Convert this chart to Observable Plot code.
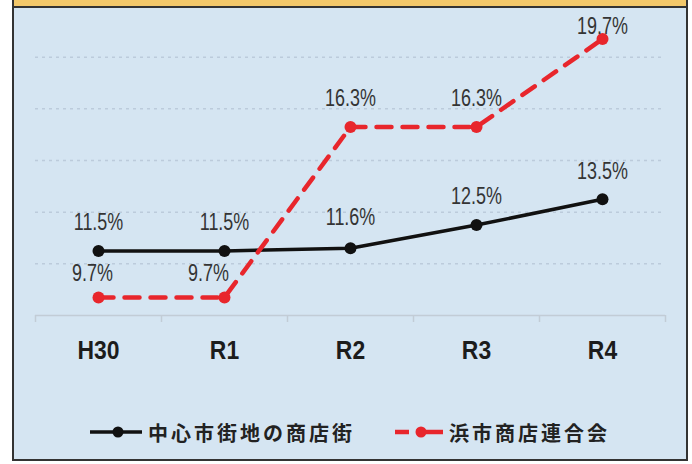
<!DOCTYPE html>
<html><head><meta charset="utf-8">
<script src="https://cdn.jsdelivr.net/npm/d3@7"></script>
<script src="https://cdn.jsdelivr.net/npm/@observablehq/plot@0.6"></script>
<style>
body{margin:0;background:#fff;width:692px;height:464px;overflow:hidden;position:relative;font-family:"Noto Sans CJK JP",sans-serif}
#titlebar{position:absolute;left:12px;top:0;width:672px;height:6px;background:#f3c86a;border:2px solid #333;border-top:none}
#panel{position:absolute;left:12px;top:8px;width:672px;height:451px;background:#d5e5f2;border:2px solid #333;border-top:none}
#chart{position:absolute;left:0;top:0}
.leg{position:absolute;top:418px;height:28px;display:flex;align-items:center;font-size:20px;font-weight:700;color:#222;letter-spacing:3px;white-space:nowrap}
.leg svg{margin-right:6px}
</style></head>
<body>
<div id="titlebar"></div>
<div id="panel"></div>
<div id="chart"></div>
<div id="legend"></div>
<script>
const years = ["H30", "R1", "R2", "R3", "R4"];
const central = [11.5, 11.5, 11.6, 12.5, 13.5];
const hama = [9.7, 9.7, 16.3, 16.3, 19.7];
const seriesNames = ["中心市街地の商店街", "浜市商店連合会"];
const yGrid = [11, 13, 15, 17, 19];
const colors = ["#111111", "#e8262c"];

const centralData = central.map((v, i) => ({i, value: v, series: 0}));
const hamaData = hama.map((v, i) => ({i, value: v, series: 1}));

function offY(d) {
  if (d.series === 0) return d.i === 2 ? -31 : -28;
  if (d.i < 2) return -24;
  if (d.i === 4) return -12;
  return -28;
}
function offX(d) {
  if (d.series === 1 && d.i === 0) return -6;
  if (d.series === 1 && d.i === 1) return -16;
  return 0;
}
const labelFont = '"Liberation Sans",Arial,sans-serif';

function labels(data) {
  return data.map(d => Plot.text([d], {
    x: "i", y: "value", text: x => x.value.toFixed(1) + "%",
    dx: offX(d), dy: offY(d), fontSize: 23, fill: "#343434",
    fontFamily: labelFont, className: "vlab"
  }));
}

const chart = Plot.plot({
  width: 692, height: 380,
  marginLeft: 35, marginRight: 27, marginTop: 5, marginBottom: 65,
  x: {domain: [-0.5, 4.5], axis: null},
  y: {domain: [9, 21], axis: null},
  style: {background: "transparent", overflow: "visible", fontFamily: labelFont},
  marks: [
    Plot.gridY(yGrid, {stroke: "#bccbdb", strokeOpacity: 1, strokeDasharray: "3,4", strokeWidth: 1.5}),
    Plot.ruleY([9], {stroke: "#c2ccd6", strokeWidth: 1.5}),
    Plot.axisX({ticks: d3.range(-0.5, 5, 1), tickSize: 7, tickFormat: () => "", label: null, stroke: "#c2ccd6", strokeWidth: 1.5}),
    Plot.axisX({ticks: [0, 1, 2, 3, 4], tickSize: 0, tickPadding: 25, tickFormat: i => years[i], label: null, fontSize: 26, fontWeight: 700, fill: "#1c1c1c", fontFamily: labelFont, className: "tlab"}),
    Plot.line(centralData, {x: "i", y: "value", stroke: colors[0], strokeWidth: 3.5}),
    Plot.line(hamaData, {x: "i", y: "value", stroke: colors[1], strokeWidth: 4.5, strokeDasharray: "15,11"}),
    Plot.dot(centralData, {x: "i", y: "value", r: 6, fill: colors[0]}),
    Plot.dot(hamaData, {x: "i", y: "value", r: 6, fill: colors[1]}),
    ...labels(centralData),
    ...labels(hamaData)
  ]
});
document.getElementById("chart").appendChild(chart);

// condense the text horizontally, like the narrow typeface of the reference
function condense(sel, k) {
  chart.querySelectorAll(sel).forEach(t => {
    const len = t.getComputedTextLength();
    t.setAttribute("textLength", (len * k).toFixed(1));
    t.setAttribute("lengthAdjust", "spacingAndGlyphs");
  });
}
condense(".vlab text", 0.78);
condense(".tlab text", 0.88);

const legend = document.getElementById("legend");
const legLeft = [90, 395];
seriesNames.forEach((name, k) => {
  const item = document.createElement("div");
  item.className = "leg";
  item.style.left = legLeft[k] + "px";
  let sw;
  if (k === 0) {
    sw = `<svg width="52" height="20"><line x1="0" x2="52" y1="10" y2="10" stroke="${colors[0]}" stroke-width="3.5"/><circle cx="28" cy="10" r="5.5" fill="${colors[0]}"/></svg>`;
  } else {
    sw = `<svg width="48" height="20"><line x1="0" x2="14" y1="10" y2="10" stroke="${colors[1]}" stroke-width="4.5"/><line x1="21" x2="48" y1="10" y2="10" stroke="${colors[1]}" stroke-width="4.5"/><circle cx="26" cy="10" r="5.5" fill="${colors[1]}"/></svg>`;
  }
  item.innerHTML = sw + `<span>${name}</span>`;
  legend.appendChild(item);
});
</script>
</body></html>
